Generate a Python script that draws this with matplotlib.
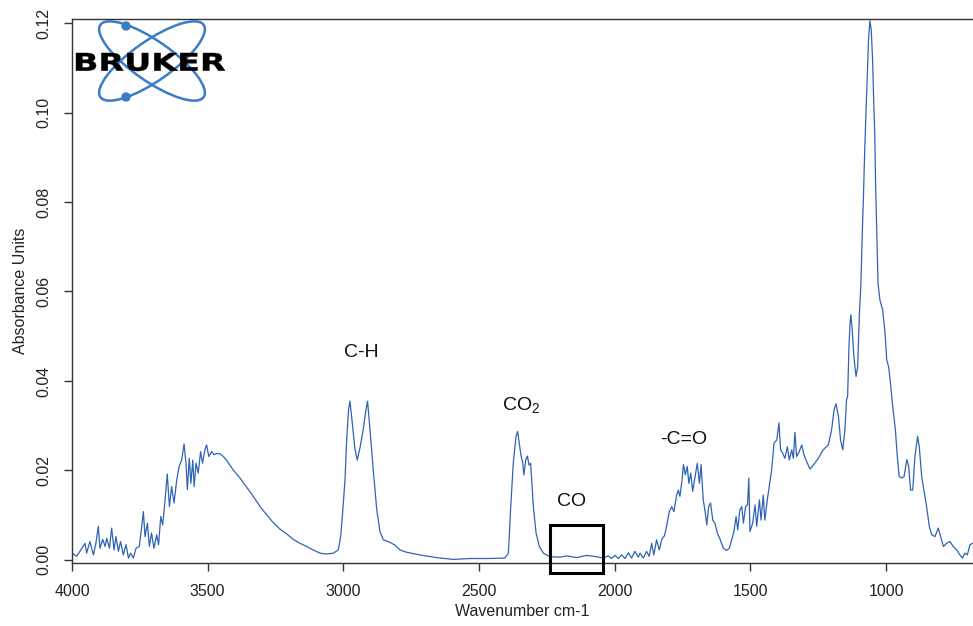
import matplotlib
matplotlib.use("Agg")
import matplotlib.pyplot as plt
from matplotlib.patches import Ellipse, Circle, Rectangle, PathPatch
from matplotlib.textpath import TextPath
from matplotlib.font_manager import FontProperties
from matplotlib.transforms import Affine2D

plt.rcParams['font.family'] = ['Liberation Sans', 'DejaVu Sans']
plt.rcParams['mathtext.default'] = 'regular'

# spectrum (wavenumber, absorbance)
wavenumber = [
    4000, 3983, 3971, 3952, 3946, 3934, 3921, 3912, 3903, 3897, 3887, 3878, 3872, 3862,
    3854, 3845, 3838, 3829, 3821, 3811, 3801, 3792, 3784, 3774, 3764, 3752, 3743, 3737,
    3731, 3722, 3715, 3707, 3698, 3688, 3681, 3673, 3666, 3657, 3649, 3641, 3633, 3624,
    3614, 3605, 3596, 3587, 3580, 3575, 3568, 3562, 3555, 3550, 3543, 3535, 3526, 3519,
    3510, 3504, 3496, 3485, 3477, 3467, 3455, 3442, 3430, 3406, 3381, 3356, 3332, 3307,
    3283, 3258, 3234, 3209, 3185, 3160, 3135, 3111, 3086, 3062, 3037, 3019, 3010, 3003,
    2994, 2988, 2981, 2976, 2967, 2958, 2949, 2939, 2927, 2917, 2911, 2902, 2890, 2877,
    2865, 2853, 2828, 2810, 2791, 2767, 2718, 2656, 2595, 2534, 2472, 2405, 2392, 2384,
    2374, 2364, 2358, 2352, 2346, 2339, 2335, 2328, 2322, 2316, 2310, 2300, 2290, 2278,
    2263, 2239, 2202, 2177, 2141, 2104, 2067, 2042, 2024, 2012, 1999, 1987, 1975, 1962,
    1950, 1938, 1926, 1913, 1907, 1895, 1883, 1873, 1864, 1856, 1846, 1836, 1827, 1817,
    1809, 1799, 1790, 1782, 1772, 1766, 1760, 1752, 1747, 1740, 1733, 1727, 1720, 1713,
    1704, 1696, 1688, 1682, 1674, 1666, 1661, 1654, 1647, 1639, 1631, 1622, 1612, 1600,
    1588, 1578, 1569, 1561, 1553, 1547, 1539, 1532, 1526, 1518, 1511, 1506, 1502, 1492,
    1483, 1477, 1467, 1461, 1453, 1447, 1438, 1431, 1422, 1413, 1403, 1395, 1389, 1381,
    1373, 1364, 1357, 1348, 1342, 1336, 1330, 1320, 1311, 1303, 1293, 1281, 1268, 1250,
    1232, 1213, 1201, 1192, 1185, 1176, 1168, 1160, 1152, 1146, 1142, 1137, 1133, 1130,
    1125, 1119, 1111, 1105, 1099, 1093, 1088, 1084, 1079, 1074, 1069, 1065, 1060, 1055,
    1050, 1046, 1042, 1039, 1035, 1030, 1023, 1013, 1004, 998, 991, 984, 976, 966,
    959, 952, 943, 934, 924, 917, 910, 902, 894, 884, 878, 869, 861, 851,
    841, 832, 820, 808, 799, 789, 777, 765, 753, 740, 728, 719, 710, 701,
    691, 681,
]
absorbance = [
    0.0015, 0.0008, 0.0019, 0.0037, 0.0015, 0.0041, 0.0011, 0.0037, 0.0075, 0.0026, 0.0046, 0.0030, 0.0048, 0.0026,
    0.0071, 0.0022, 0.0052, 0.0019, 0.0041, 0.0011, 0.0034, 0.0004, 0.0015, 0.0004, 0.0026, 0.0030, 0.0075, 0.0108,
    0.0052, 0.0082, 0.0030, 0.0060, 0.0026, 0.0056, 0.0034, 0.0097, 0.0078, 0.0134, 0.0192, 0.0119, 0.0164, 0.0127,
    0.0179, 0.0209, 0.0223, 0.0259, 0.0216, 0.0157, 0.0227, 0.0171, 0.0223, 0.0164, 0.0216, 0.0194, 0.0242, 0.0216,
    0.0246, 0.0257, 0.0231, 0.0242, 0.0235, 0.0238, 0.0237, 0.0231, 0.0222, 0.0201, 0.0183, 0.0162, 0.0142, 0.0119,
    0.0101, 0.0083, 0.0069, 0.0058, 0.0046, 0.0037, 0.0030, 0.0022, 0.0015, 0.0013, 0.0015, 0.0022, 0.0052, 0.0104,
    0.0179, 0.0268, 0.0335, 0.0355, 0.0305, 0.0250, 0.0223, 0.0250, 0.0291, 0.0335, 0.0355, 0.0291, 0.0201, 0.0112,
    0.0063, 0.0045, 0.0039, 0.0033, 0.0022, 0.0017, 0.0011, 0.0005, 0.0001, 0.0003, 0.0003, 0.0004, 0.0015, 0.0112,
    0.0216, 0.0276, 0.0287, 0.0261, 0.0235, 0.0216, 0.0190, 0.0224, 0.0232, 0.0212, 0.0216, 0.0119, 0.0060, 0.0030,
    0.0015, 0.0007, 0.0006, 0.0009, 0.0005, 0.0010, 0.0007, 0.0004, 0.0009, 0.0003, 0.0010, 0.0003, 0.0011, 0.0003,
    0.0016, 0.0004, 0.0019, 0.0006, 0.0015, 0.0004, 0.0019, 0.0008, 0.0037, 0.0011, 0.0045, 0.0022, 0.0046, 0.0054,
    0.0075, 0.0108, 0.0119, 0.0108, 0.0145, 0.0156, 0.0142, 0.0179, 0.0213, 0.0190, 0.0209, 0.0171, 0.0194, 0.0153,
    0.0186, 0.0216, 0.0171, 0.0213, 0.0134, 0.0104, 0.0078, 0.0119, 0.0127, 0.0089, 0.0082, 0.0060, 0.0046, 0.0026,
    0.0021, 0.0026, 0.0046, 0.0063, 0.0097, 0.0067, 0.0112, 0.0119, 0.0082, 0.0119, 0.0123, 0.0183, 0.0063, 0.0082,
    0.0123, 0.0075, 0.0134, 0.0089, 0.0145, 0.0089, 0.0134, 0.0164, 0.0201, 0.0261, 0.0268, 0.0306, 0.0246, 0.0238,
    0.0227, 0.0253, 0.0223, 0.0246, 0.0227, 0.0285, 0.0231, 0.0242, 0.0257, 0.0235, 0.0220, 0.0203, 0.0212, 0.0227,
    0.0246, 0.0257, 0.0291, 0.0335, 0.0349, 0.0321, 0.0268, 0.0246, 0.0291, 0.0358, 0.0365, 0.0477, 0.0529, 0.0548,
    0.0514, 0.0454, 0.0410, 0.0432, 0.0544, 0.0618, 0.0730, 0.0805, 0.0916, 0.1006, 0.1103, 0.1162, 0.1205, 0.1185,
    0.1118, 0.1028, 0.0954, 0.0842, 0.0738, 0.0618, 0.0581, 0.0559, 0.0507, 0.0447, 0.0432, 0.0395, 0.0343, 0.0291,
    0.0231, 0.0186, 0.0183, 0.0186, 0.0224, 0.0209, 0.0156, 0.0156, 0.0231, 0.0276, 0.0253, 0.0186, 0.0156, 0.0119,
    0.0075, 0.0056, 0.0052, 0.0071, 0.0052, 0.0030, 0.0037, 0.0041, 0.0030, 0.0022, 0.0011, 0.0004, 0.0015, 0.0011,
    0.0034, 0.0037,
]

xticks = [4000, 3500, 3000, 2500, 2000, 1500, 1000]
yticks = [0.00, 0.02, 0.04, 0.06, 0.08, 0.10, 0.12]
peak_labels = ["C-H", "CO$_2$", "CO", "-C=O"]
peak_label_x = [2935, 2346, 2158, 1745]
peak_label_y = [0.0463, 0.0346, 0.0130, 0.0268]
co_box = (2239, 2043, -0.0029, 0.0078)   # wn left, wn right, abs bottom, abs top

W, H = 973, 626
fig = plt.figure(figsize=(W / 100, H / 100), dpi=100)
ax = fig.add_axes([72 / W, (H - 563) / H, (W - 72) / W, (563 - 19) / H])

ax.plot(wavenumber, absorbance, color="#3063b4", lw=0.9)
ax.set_xlim(4000, 680)
ax.set_ylim(-0.0007, 0.1209)

ax.set_xticks(xticks)
ax.set_xticklabels([str(t) for t in xticks])
ax.set_yticks(yticks)
ax.set_yticklabels(["%.2f" % t for t in yticks], rotation=90, va="center")
ax.tick_params(axis="both", length=6, width=1, color="#333333", labelcolor="#222222",
               labelsize=11.5, pad=9)
ax.spines["right"].set_visible(False)
for s in ["left", "bottom", "top"]:
    ax.spines[s].set_color("#333333")
    ax.spines[s].set_linewidth(1)

ax.set_xlabel("Wavenumber cm-1", fontsize=11.5, color="#222222", labelpad=4)
ax.set_ylabel("Absorbance Units", fontsize=11.5, color="#222222", labelpad=6)

for lab, x, y in zip(peak_labels, peak_label_x, peak_label_y):
    ax.text(x, y, lab, fontsize=14, ha="center", va="center", color="#111111")

x0, x1, y0, y1 = co_box
ax.add_patch(Rectangle((x0, y0), x1 - x0, y1 - y0, fill=False, ec="black",
                       lw=2.2, clip_on=False, zorder=5))

# Bruker logo, drawn in pixel units
logo = fig.add_axes([70 / W, (H - 105) / H, 160 / W, 87 / H], zorder=3)
logo.set_xlim(70, 230)
logo.set_ylim(105, 18)
logo.axis("off")
logo.patch.set_alpha(0)
blue = "#3b7cc4"
logo.add_patch(Ellipse((152, 61), 126, 40, angle=-35, fill=False, ec=blue, lw=1.8))
logo.add_patch(Ellipse((152, 61), 126, 40, angle=35, fill=False, ec=blue, lw=1.8))
logo.add_patch(Circle((126, 26), 4, color=blue))
logo.add_patch(Circle((126, 97), 4, color=blue))

tp = TextPath((0, 0), "BRUKER", size=1, prop=FontProperties(family="DejaVu Sans", weight="bold"))
bb = tp.get_extents()
sx = (225 - 76) / bb.width
sy = (71 - 53) / bb.height
tr = Affine2D().translate(-bb.x0, -bb.y0).scale(sx, -sy).translate(76, 71)
logo.add_patch(PathPatch(tr.transform_path(tp), fc="black", ec="black", lw=0.3))

fig.savefig("out.png", dpi=100)
